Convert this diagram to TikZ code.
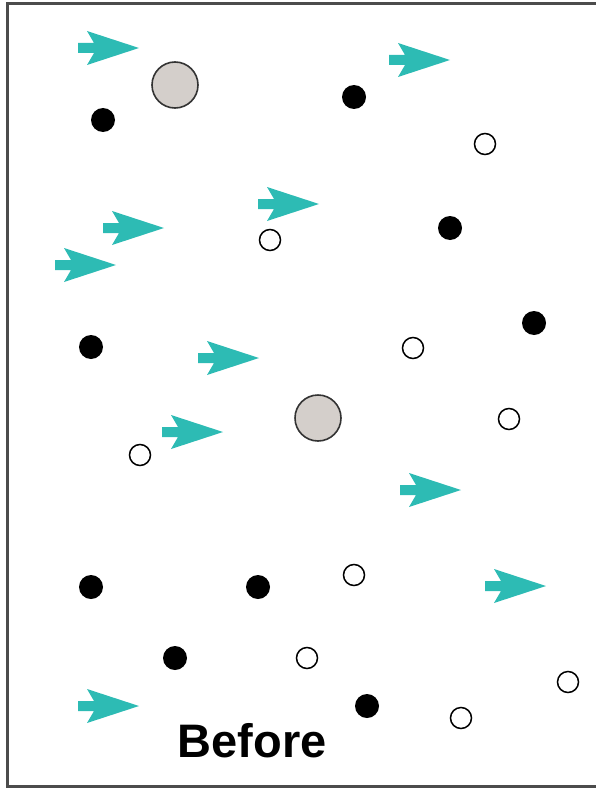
\documentclass[tikz,border=0pt]{standalone}
\usepackage{fontspec}
\setmainfont{Liberation Sans}
\definecolor{teal1}{RGB}{45,187,180}
\definecolor{gray1}{RGB}{212,207,203}
\tikzset{
  flowarrow/.pic={\fill[teal1] (0,-5)--(16,-5)--(9,-17)--(61,0)--(9,17)--(16,5)--(0,5)--cycle;},
  blackdot/.style={fill=black},
  opendot/.style={draw=black,line width=1.5pt,fill=white},
  bigdot/.style={draw=black!80,line width=1.6pt,fill=gray1}
}
\begin{document}
\begin{tikzpicture}[x=1pt,y=-1pt]
\useasboundingbox (0,0) rectangle (595,789);
\draw[line width=2.2pt,black!70] (620,3.5) -- (7.5,3.5) -- (7.5,786.5) -- (620,786.5);
% arrows
\foreach \p in {(78,48),(389,60),(103,228),(258,204),(55,265),(198,358),(162,432),(400,490),(485,586),(78,706)}
  \pic at \p {flowarrow};
% black dots
\foreach \p in {(103,120),(354,97),(450,228),(534,323),(91,347),(91,587),(258,587),(175,658),(367,706)}
  \fill[blackdot] \p circle (12);
% open dots
\foreach \p in {(485,144),(270,240),(413,348),(509,419),(140,455),(354,575),(307,658),(568,682),(461,718)}
  \draw[opendot] \p circle (10.5);
% big dots
\draw[bigdot] (175,85) circle (23);
\draw[bigdot] (318,418) circle (23);
\node[font=\bfseries\fontsize{47}{50}\selectfont] (label) at (252,741) {Before};
\end{tikzpicture}
\end{document}
